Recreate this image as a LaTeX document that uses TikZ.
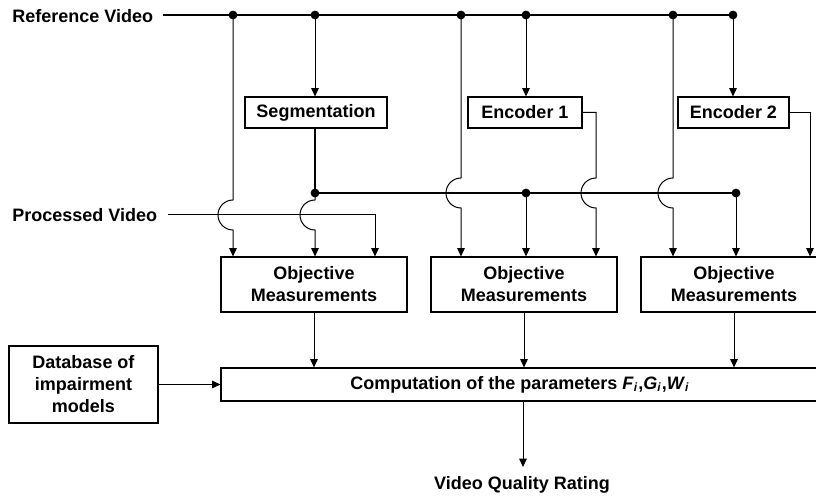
\documentclass[tikz,border=0pt]{standalone}
\usepackage{fontspec}
\setmainfont{Liberation Sans}
\usetikzlibrary{arrows.meta,calc}
\begin{document}
\begin{tikzpicture}[x=0.5pt,y=-0.5pt,
  every node/.style={font=\fontsize{9}{11}\selectfont\bfseries, inner sep=0pt},
  box/.style={draw, line width=0.55pt, align=center, fill=white},
  wire/.style={line width=0.5pt},
  feed/.style={wire, -{Triangle[length=4.2pt,width=3.8pt]}},
  bus/.style={line width=1pt},
  segbus/.style={line width=0.8pt},
  junction/.style={circle, fill, inner sep=0pt, minimum size=4.4pt},
]
\useasboundingbox (0,0) rectangle (816,497);
\clip (0,0) rectangle (816,497);

% input / output labels
\node[anchor=west] (ref)  at (12,16)  {Reference Video};
\node[anchor=west] (proc) at (12,215) {Processed Video};
\node (vqr) at (522,485) {Video Quality Rating};

% processing blocks
\node[box, minimum width=71pt,   minimum height=15.5pt] (seg)  at (316,112.5)   {Segmentation};
\node[box, minimum width=57pt,   minimum height=15.5pt] (enc1) at (525,112.5)   {Encoder 1};
\node[box, minimum width=55.5pt, minimum height=15.5pt] (enc2) at (733.5,112.5) {Encoder 2};
\node[box, minimum width=93pt, minimum height=27.5pt] (obj1) at (314,284.5) {Objective\\Measurements};
\node[box, minimum width=93pt, minimum height=27.5pt] (obj2) at (524,284.5) {Objective\\Measurements};
\node[box, minimum width=93pt, minimum height=27.5pt] (obj3) at (734,284.5) {Objective\\Measurements};
\node[box, minimum width=299pt, minimum height=16.5pt] (comp) at (520,384.5)
  {Computation of the parameters \textit{F}\textsubscript{\textit{i}},\textit{G}\textsubscript{\textit{i}},\textit{W}\textsubscript{\textit{i}}};
\node[box, minimum width=74.5pt, minimum height=38.5pt] (db) at (83.5,384.5) {Database of\\impairment\\models};

% bus start points and corners
\coordinate (rs)  at (163,15);
\coordinate (pv)  at (168,215);
\coordinate (pvc) at (375,215);
\coordinate (e1c) at (596,112.5);
\coordinate (e2c) at (810,112.5);
\coordinate (vqrin) at (523,467);

% junctions on the reference bus
\node[junction] (r1) at (233,15) {};
\node[junction] (r2) at (315,15) {};
\node[junction] (r3) at (461,15) {};
\node[junction] (r4) at (526,15) {};
\node[junction] (r5) at (673,15) {};
\node[junction] (r6) at (733,15) {};

% junctions on the segmentation bus
\node[junction] (s1) at (315,193) {};
\node[junction] (s2) at (526,193) {};
\node[junction] (s3) at (736,193) {};

% reference video bus
\draw[bus] (rs) -- (r6.center);

% segmentation output bus
\draw[line width=0.9pt] (seg.south -| s1) -- (s1.center);
\draw[segbus] (s1.center) -- (s3.center);

% processed video line
\draw[feed] (pv) -- (pvc) -- (pvc |- obj1.north);

% feeds into the first measurement block
\draw[feed] (r1.center) -- ($(r1 |- pv)+(0,-15)$) arc[start angle=90, end angle=270, radius=7.5pt] -- (r1 |- obj1.north);
\draw[feed] (s1.center) -- ($(s1 |- pv)+(0,-15)$) arc[start angle=90, end angle=270, radius=7.5pt] -- (s1 |- obj1.north);

% reference into segmentation and encoders
\draw[feed] (r2.center) -- (r2 |- seg.north);
\draw[feed] (r4.center) -- (r4 |- enc1.north);
\draw[feed] (r6.center) -- (r6 |- enc2.north);

% feeds into the second measurement block
\draw[feed] (r3.center) -- ($(r3 |- s1)+(0,-15)$) arc[start angle=90, end angle=270, radius=7.5pt] -- (r3 |- obj2.north);
\draw[feed] (s2.center) -- (s2 |- obj2.north);
\draw[feed] (enc1.east) -- (e1c) -- ($(e1c |- s1)+(0,-15)$) arc[start angle=90, end angle=270, radius=7.5pt] -- (e1c |- obj2.north);

% feeds into the third measurement block
\draw[feed] (r5.center) -- ($(r5 |- s1)+(0,-15)$) arc[start angle=90, end angle=270, radius=7.5pt] -- (r5 |- obj3.north);
\draw[feed] (s3.center) -- (s3 |- obj3.north);
\draw[feed] (enc2.east) -- (e2c) -- (e2c |- obj3.north);

% measurements into the parameter computation
\draw[feed] (obj1.south) -- (obj1.south |- comp.north);
\draw[feed] (obj2.south) -- (obj2.south |- comp.north);
\draw[feed] (obj3.south) -- (obj3.south |- comp.north);
\draw[feed] (db.east) -- (comp.west);

% final rating
\draw[feed] (comp.south -| vqrin) -- (vqrin);
\end{tikzpicture}
\end{document}
